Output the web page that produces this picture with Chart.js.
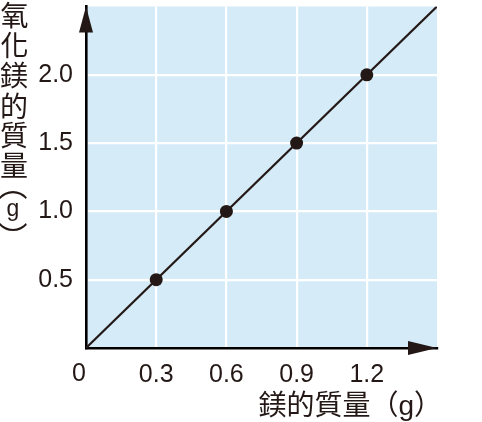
<!DOCTYPE html>
<html><head><meta charset="utf-8">
<script src="https://cdn.jsdelivr.net/npm/chart.js@4"></script>
<style>html,body{margin:0;padding:0;background:#fff}</style>
</head><body>
<canvas id="c" width="482" height="422"></canvas>
<script>
const xValues = [0.3, 0.6, 0.9, 1.2];
const yValues = [0.5, 1.0, 1.5, 2.0];
const lineX = [0, 1.5];
const lineY = [0, 2.5];
const xTicks = [0, 0.3, 0.6, 0.9, 1.2, 1.5];
const yTicks = [0, 0.5, 1.0, 1.5, 2.0, 2.5];
const originLabel = '0';
const xTitle = '鎂的質量（g）';
const yTitleChars = ['氧', '化', '鎂', '的', '質', '量'];
const yTitleUnit = ['︵', 'g', '︶'];

const INK = '#231815';
const FONT = '"Noto Sans CJK TC", "Noto Sans", sans-serif';
const NUMFONT = '"Liberation Sans", "Noto Sans CJK TC", sans-serif';

function centered(ctx, text, cx, cy) {
  ctx.textAlign = 'left';
  ctx.textBaseline = 'alphabetic';
  const m = ctx.measureText(text);
  const L = m.actualBoundingBoxLeft, R = m.actualBoundingBoxRight;
  const A = m.actualBoundingBoxAscent, D = m.actualBoundingBoxDescent;
  ctx.fillText(text, cx - (R - L) / 2, cy + (A - D) / 2);
}

const deco = {
  id: 'deco',
  beforeDraw(chart) {
    const {ctx, chartArea: a} = chart;
    ctx.save();
    ctx.fillStyle = '#d5ebf8';
    ctx.fillRect(a.left, a.top, a.right - a.left, a.bottom - a.top);
    ctx.restore();
  },
  afterDraw(chart) {
    const {ctx, chartArea: a, scales} = chart;
    const x0 = scales.x.getPixelForValue(0);
    const y0 = scales.y.getPixelForValue(0);
    ctx.save();
    ctx.fillStyle = INK;
    // arrows
    ctx.beginPath();
    ctx.moveTo(x0, a.top);
    ctx.lineTo(x0 - 7, a.top + 26);
    ctx.lineTo(x0 + 7, a.top + 26);
    ctx.closePath(); ctx.fill();
    ctx.beginPath();
    ctx.moveTo(a.right, y0);
    ctx.lineTo(a.right - 29, y0 - 7);
    ctx.lineTo(a.right - 29, y0 + 7);
    ctx.closePath(); ctx.fill();
    // origin label
    ctx.font = '25px ' + NUMFONT;
    ctx.textAlign = 'center';
    ctx.textBaseline = 'middle';
    ctx.fillText(originLabel, x0 - 7, 374);
    // x title
    ctx.font = '28px ' + NUMFONT;
    ctx.textAlign = 'right';
    ctx.fillText(xTitle, 442, 407);
    // y title (vertical)
    ctx.font = '28px ' + FONT;
    yTitleChars.forEach((ch, i) => centered(ctx, ch, 14, 15 + i * 30));
    ctx.font = '29px ' + FONT;
    centered(ctx, yTitleUnit[0], 13, 195.5);
    centered(ctx, yTitleUnit[2], 13, 226.5);
    ctx.font = '23px ' + NUMFONT;
    ctx.textAlign = 'center';
    ctx.textBaseline = 'alphabetic';
    ctx.fillText(yTitleUnit[1], 13, 216);
    ctx.restore();
  }
};

new Chart(document.getElementById('c'), {
  type: 'scatter',
  data: {
    datasets: [
      {
        type: 'line',
        data: lineX.map((x, i) => ({x, y: lineY[i]})),
        borderColor: INK, borderWidth: 2.2, pointRadius: 0, fill: false, tension: 0
      },
      {
        data: xValues.map((x, i) => ({x, y: yValues[i]})),
        backgroundColor: INK, borderColor: INK, pointRadius: 6.5, borderWidth: 0
      }
    ]
  },
  options: {
    responsive: false,
    animation: false,
    layout: {padding: {left: 0, top: 4, right: 45, bottom: 0}},
    plugins: {legend: {display: false}, tooltip: {enabled: false}},
    scales: {
      x: {
        type: 'linear', min: 0, max: 1.5,
        afterBuildTicks: s => { s.ticks = xTicks.map(v => ({value: v})); },
        afterFit: s => { s.height = 74; s.paddingLeft = 0; s.paddingRight = 0; },
        grid: {
          color: c => (c.tick && (c.tick.value === 0 || c.tick.value === 1.5)) ? 'rgba(0,0,0,0)' : '#ffffff',
          lineWidth: 2.2, drawTicks: false
        },
        border: {color: '#000', width: 2.6},
        ticks: {
          padding: 12, color: INK, maxRotation: 0,
          font: {size: 25, family: NUMFONT},
          callback: v => (v === 0 || v === 1.5) ? '' : String(v)
        }
      },
      y: {
        type: 'linear', min: 0, max: 2.5,
        afterBuildTicks: s => { s.ticks = yTicks.map(v => ({value: v})); },
        afterFit: s => { s.width = 86; s.paddingTop = 0; s.paddingBottom = 0; },
        grid: {
          color: c => (c.tick && (c.tick.value === 0 || c.tick.value === 2.5)) ? 'rgba(0,0,0,0)' : '#ffffff',
          lineWidth: 2.2, drawTicks: false
        },
        border: {color: '#000', width: 2.6},
        ticks: {
          padding: 13, color: INK,
          font: {size: 25, family: NUMFONT},
          callback: v => (v === 0 || v === 2.5) ? '' : v.toFixed(1)
        }
      }
    }
  },
  plugins: [deco]
});
</script>
</body></html>
